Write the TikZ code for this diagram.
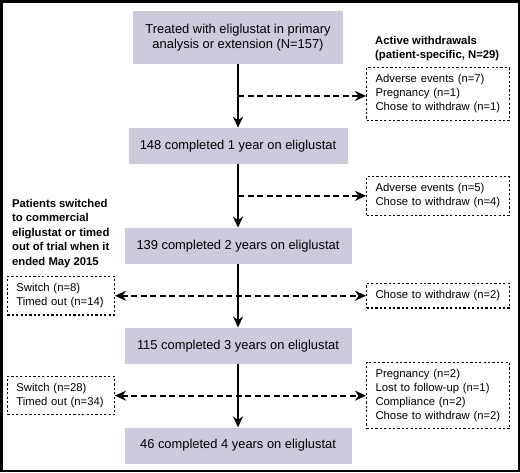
\documentclass[tikz,border=0pt]{standalone}
\usepackage{fontspec}
\setmainfont{Liberation Sans}
\usetikzlibrary{arrows.meta, positioning}
\definecolor{boxfill}{RGB}{203,203,220}

\begin{document}
\begin{tikzpicture}[
    x=1pt, y=1pt,
    node distance=63.5pt and 128pt,
    stagebox/.style={rectangle, fill=boxfill, minimum height=36pt, align=center,
                     inner sep=0pt, font=\fontsize{12.9}{15}\selectfont},
    outbox/.style={rectangle, draw, line width=1.1pt, dash pattern=on 2.2pt off 2.2pt,
                   align=left, inner xsep=9pt, inner ysep=7pt,
                   font=\fontsize{11.3}{14}\selectfont},
    note/.style={align=left, inner sep=0pt, font=\fontsize{11.3}{14.5}\selectfont\bfseries},
    flow/.style={-{Stealth[length=11pt,width=10pt]}, line width=2pt},
    drop/.style={flow, dash pattern=on 6pt off 3.5pt},
    both/.style={drop, {Stealth[length=11pt,width=10pt]}-{Stealth[length=11pt,width=10pt]}}
]
\useasboundingbox (0,0) rectangle (520,-472);
\draw[line width=2.5pt] (1.25,-1.25) rectangle (518.75,-470.75);

%% Main flow
\node[stagebox, minimum width=210pt, minimum height=53pt] (y0) at (238,-37.5)
    {Treated with eliglustat in primary\\analysis or extension (N=157)};
\node[stagebox, minimum width=219pt, below=of y0] (y1) {148 completed 1 year on eliglustat};
\node[stagebox, minimum width=227pt, below=of y1] (y2) {139 completed 2 years on eliglustat};
\node[stagebox, minimum width=227pt, below=of y2] (y3) {115 completed 3 years on eliglustat};
\node[stagebox, minimum width=227pt, below=of y3] (y4) {46 completed 4 years on eliglustat};

%% Branch points
\path (y0.south) -- (y1.north) coordinate[midway] (m1);
\path (y1.south) -- (y2.north) coordinate[midway] (m2);
\path (y2.south) -- (y3.north) coordinate[midway] (m3);
\path (y3.south) -- (y4.north) coordinate[midway] (m4);

%% Withdrawals (right)
\node[outbox, text width=125pt, right=of m1, yshift=2pt] (r1)
    {Adverse events (n=7)\\Pregnancy (n=1)\\Chose to withdraw (n=1)};
\node[note, above right=6pt and 9pt of r1.north west]
    {Active withdrawals\\(patient-specific, N=29)};
\node[outbox, text width=125pt, right=of m2] (r2)
    {Adverse events (n=5)\\Chose to withdraw (n=4)};
\node[outbox, text width=125pt, right=of m3] (r3) {Chose to withdraw (n=2)};
\node[outbox, text width=125pt, right=of m4] (r4)
    {Pregnancy (n=2)\\Lost to follow-up (n=1)\\Compliance (n=2)\\Chose to withdraw (n=2)};

%% Switched / timed out (left)
\node[outbox, text width=89pt, left=123pt of m3] (l1) {Switch (n=8)\\Timed out (n=14)};
\node[note, above right=8pt and 5pt of l1.north west]
    {Patients switched\\to commercial\\eliglustat or timed\\out of trial when it\\ended May 2015};
\node[outbox, text width=89pt, left=123pt of m4] (l2) {Switch (n=28)\\Timed out (n=34)};

%% Arrows
\draw[flow] (y0) -- (y1);
\draw[flow] (y1) -- (y2);
\draw[flow] (y2) -- (y3);
\draw[flow] (y3) -- (y4);
\draw[drop] (m1) -- (m1 -| r1.west);
\draw[drop] (m2) -- (m2 -| r2.west);
\draw[both] (l1.east) -- (r3.west);
\draw[both] (l2.east) -- (r4.west);

\end{tikzpicture}
\end{document}
